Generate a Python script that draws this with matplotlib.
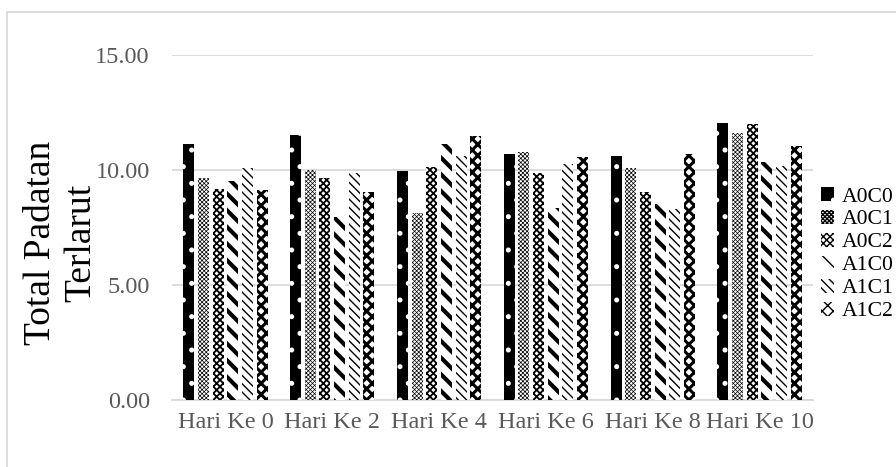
import matplotlib
matplotlib.use("Agg")
import matplotlib.pyplot as plt
import numpy as np
from matplotlib.patches import Rectangle

categories = ["Hari Ke 0", "Hari Ke 2", "Hari Ke 4", "Hari Ke 6", "Hari Ke 8", "Hari Ke 10"]
series_names = ["A0C0", "A0C1", "A0C2", "A1C0", "A1C1", "A1C2"]
A0C0 = [11.12, 11.52, 9.97, 10.70, 10.62, 12.03]
A0C1 = [9.64, 10.00, 8.14, 10.78, 10.10, 11.59]
A0C2 = [9.17, 9.64, 10.12, 9.86, 9.03, 12.00]
A1C0 = [9.52, 7.94, 11.13, 8.33, 8.51, 10.36]
A1C1 = [10.07, 9.88, 10.61, 10.26, 8.29, 10.19]
A1C2 = [9.13, 9.06, 11.49, 10.55, 10.70, 11.06]
values = [A0C0, A0C1, A0C2, A1C0, A1C1, A1C2]
yticks = [0, 5, 10, 15]
ytick_labels = ["0.00", "5.00", "10.00", "15.00"]

# (facecolor, hatchcolor, hatch, hatch linewidth)
styles = [
    ("black", "white", ".", 1.2),
    ("white", "black", "xxxxxxxx", 0.5),
    ("white", "black", "xxxxx", 1.3),
    ("white", "black", "\\\\", 3.0),
    ("white", "black", "\\\\\\\\", 1.0),
    ("white", "black", "xxx", 2.2),
]

plt.rcParams['font.family'] = ['Liberation Serif', 'DejaVu Serif']

fig = plt.figure(figsize=(8.96, 4.67), dpi=100)
ax = fig.add_axes([172/896, 1-400/467, (813-172)/896, (400-55)/467])

x = np.arange(len(categories))
width = 0.103
pitch = 0.137
handles = []
for i, (name, vals) in enumerate(zip(series_names, values)):
    fc, hc, h, hlw = styles[i]
    offs = (i - 2.5) * pitch
    with plt.rc_context({'hatch.linewidth': hlw}):
        bars = ax.bar(x + offs, vals, width, facecolor=fc, edgecolor=hc,
                      hatch=h, linewidth=0, label=name, zorder=3)
    for p in bars.patches:
        if hasattr(p, 'set_hatch_linewidth'):
            p.set_hatch_linewidth(hlw)
    handles.append(bars)

ax.set_xlim(-0.5, len(categories) - 0.5)
ax.set_ylim(0, 15)
ax.set_yticks(yticks)
ax.set_yticklabels(ytick_labels)
ax.set_xticks(x)
ax.set_xticklabels(categories)
ax.tick_params(axis='both', length=0, labelsize=17.5, labelcolor='#595959')
ax.tick_params(axis='y', pad=16)
ax.tick_params(axis='x', pad=9)
ax.grid(axis='y', color='#d9d9d9', linewidth=1.3, zorder=0)
ax.set_axisbelow(True)
for s in ['top', 'right', 'left']:
    ax.spines[s].set_visible(False)
ax.spines['bottom'].set_color('#d9d9d9')
ax.spines['bottom'].set_linewidth(1.3)

fig.text(61/896, 1-243/467, "Total Padatan\nTerlarut", rotation=90, ha='center', va='center',
         fontsize=27, multialignment='center', linespacing=1.2)

with plt.rc_context({'hatch.linewidth': 1.0}):
    leg = fig.legend(handles=handles, labels=series_names, loc='upper left',
                     bbox_to_anchor=(821/896, 1-187/467), frameon=False, fontsize=15.6,
                     handlelength=0.6, handleheight=0.6, handletextpad=0.35,
                     labelspacing=0.16, borderaxespad=0, borderpad=0)

fig.patches.append(Rectangle((7/896, -0.05), 1.0, 1-12/467 + 0.05, transform=fig.transFigure,
                             fill=False, edgecolor='#d9d9d9', linewidth=1.3))

fig.savefig("out.png", dpi=100)
